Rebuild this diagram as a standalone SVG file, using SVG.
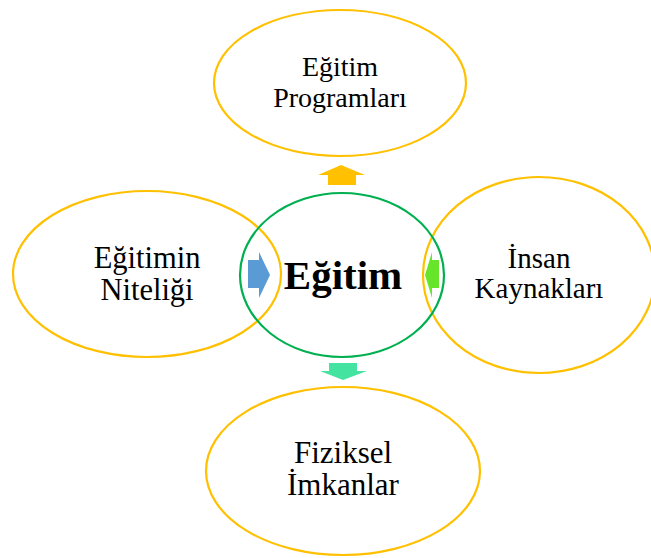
<svg xmlns="http://www.w3.org/2000/svg" width="651" height="558" viewBox="0 0 651 558">
<style>
.o{fill:none;stroke:#FFC000;stroke-width:2.2}
.c{fill:none;stroke:#00B050;stroke-width:2.2}
.t{font-family:"Liberation Serif","Times New Roman",serif;fill:#000;text-anchor:middle}
</style>
<rect width="651" height="558" fill="#fff"/>
<g id="node-programlar"><ellipse class="o" cx="340" cy="83" rx="126" ry="73"/>
<text class="t" font-size="28" x="340" y="76">Eğitim</text><text class="t" font-size="28" x="340" y="107">Programları</text></g>
<g id="node-nitelik"><ellipse class="o" cx="147" cy="274" rx="134" ry="83"/>
<text class="t" font-size="30.5" x="147" y="268">Eğitimin</text><text class="t" font-size="30.5" x="147" y="300">Niteliği</text></g>
<g id="node-insan"><ellipse class="o" cx="539" cy="275" rx="116" ry="98"/>
<text class="t" font-size="29" x="539" y="268">İnsan</text><text class="t" font-size="29" x="539" y="298">Kaynakları</text></g>
<g id="node-fiziksel"><ellipse class="o" cx="343" cy="471" rx="137" ry="84"/>
<text class="t" font-size="31" x="343" y="463">Fiziksel</text><text class="t" font-size="31" x="343" y="495">İmkanlar</text></g>
<g id="node-egitim"><ellipse class="c" cx="342" cy="275" rx="102" ry="82"/>
<text class="t" font-size="41" font-weight="bold" x="343" y="289">Eğitim</text></g>
<g id="connectors">
<polygon fill="#FFC000" points="341,165 365,175 356,175 356,185 328,185 328,175 318,175"/>
<polygon fill="#5B9BD5" points="248,260 259,260 259,252 270,275 259,298 259,288 248,288"/>
<polygon fill="#66E52A" points="439,260 432,260 432,252 425,275 432,298 432,288 439,288"/>
<polygon fill="#44E3A0" points="329,363 357,363 357,371 367,371 343,380 320,371 329,371"/>
</g>
</svg>
